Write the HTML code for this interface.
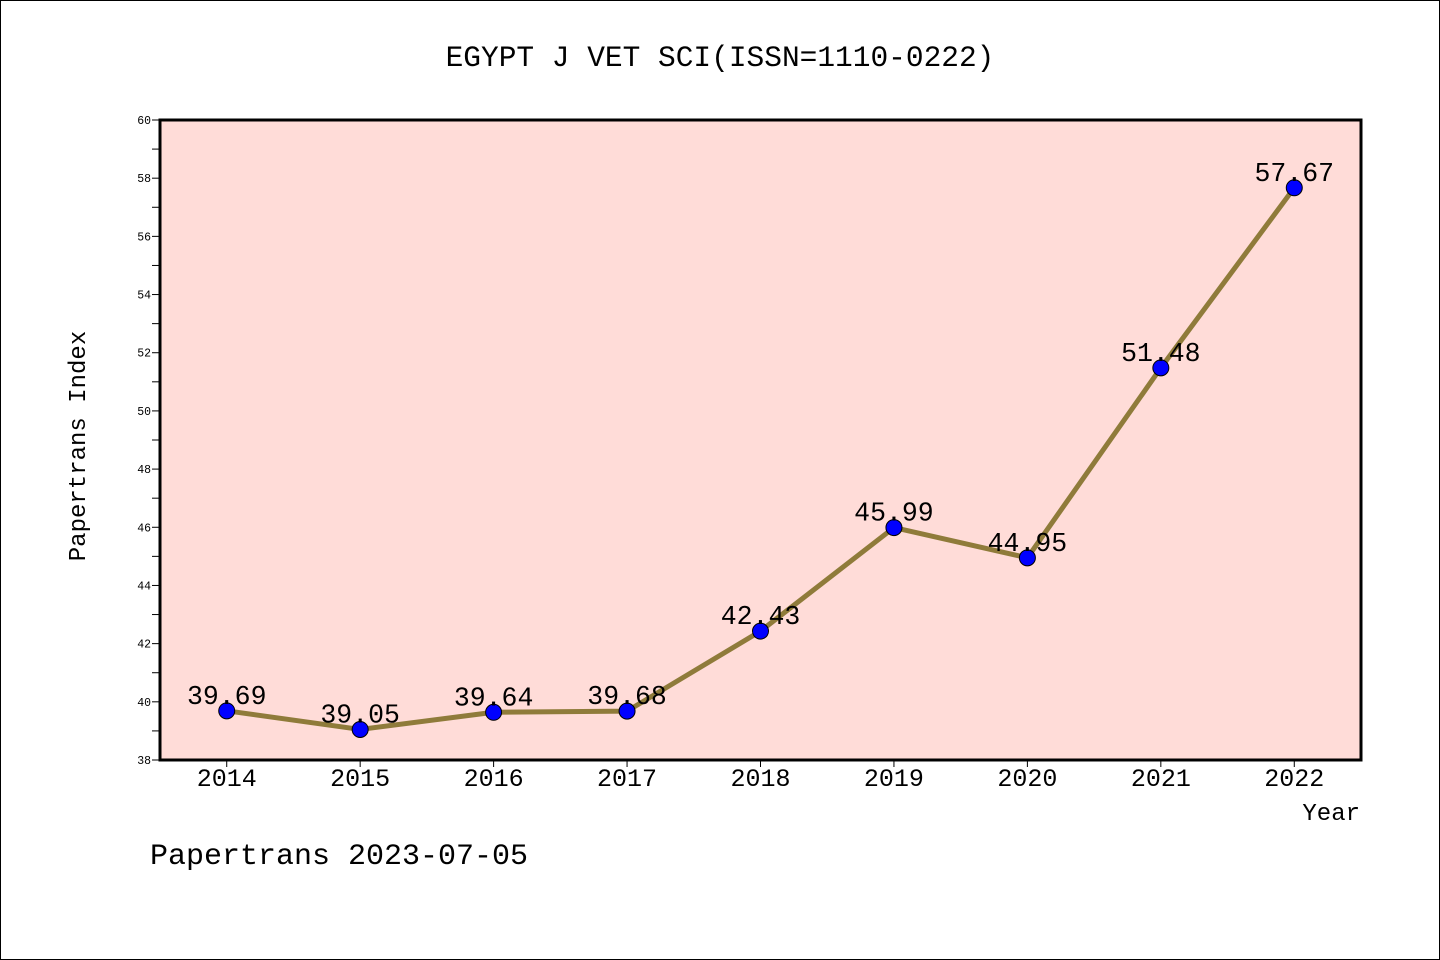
<!DOCTYPE html>
<html><head><meta charset="utf-8"><style>
html,body{margin:0;padding:0;background:#fff;}
svg{display:block;font-family:"Liberation Mono",monospace;}
</style></head><body>
<svg id="chart" width="1440" height="960" viewBox="0 0 1440 960">
<rect x="0.5" y="0.5" width="1439" height="959" fill="#fff" stroke="#000" stroke-width="1"/>
<text x="720" y="66" text-anchor="middle" font-size="29.5">EGYPT J VET SCI(ISSN=1110-0222)</text>
<rect x="160" y="120" width="1201" height="640" fill="#ffdcd8"/>
<g id="yaxis"></g>
<g id="xaxis"></g>
<g id="series"></g>
<rect x="160" y="120" width="1201" height="640" fill="none" stroke="#000" stroke-width="3"/>
<text x="0" y="0" transform="translate(85,446) rotate(-90)" text-anchor="middle" font-size="24">Papertrans Index</text>
<text x="1360" y="820" text-anchor="end" font-size="24">Year</text>
<text x="150" y="864" font-size="30">Papertrans 2023-07-05</text>
</svg>
<script>
const categories = ["2014","2015","2016","2017","2018","2019","2020","2021","2022"];
const values = [39.69,39.05,39.64,39.68,42.43,45.99,44.95,51.48,57.67];
const valueLabels = ["39.69","39.05","39.64","39.68","42.43","45.99","44.95","51.48","57.67"];
const yTicks = [38,40,42,44,46,48,50,52,54,56,58,60];
const yMinorTicks = [39,41,43,45,47,49,51,53,55,57,59];

const NS="http://www.w3.org/2000/svg";
const L=160,R=1361,T=120,B=760,YMIN=38,YMAX=60;
const y=v=>B-(v-YMIN)/(YMAX-YMIN)*(B-T);
const bw=(R-L)/categories.length;
const x=i=>L+bw*(i+0.5);
function mk(tag,attrs,parent){const e=document.createElementNS(NS,tag);for(const k in attrs)e.setAttribute(k,attrs[k]);parent.appendChild(e);return e;}
const ya=document.getElementById('yaxis'),xa=document.getElementById('xaxis'),sr=document.getElementById('series');
yTicks.forEach(t=>{
  const l=mk('line',{x1:L-8,x2:L,y1:y(t),y2:y(t),stroke:'#000','stroke-width':1},ya);
  
  
  const tx=mk('text',{x:L-9,y:y(t)+4,'text-anchor':'end','font-size':11.5},ya);
  tx.textContent=t;
  
  
});
yMinorTicks.forEach(t=>{
  const l=mk('line',{x1:L-8,x2:L,y1:y(t),y2:y(t),stroke:'#000','stroke-width':1},ya);
  
  
});
categories.forEach((c,i)=>{
  const l=mk('line',{x1:x(i),x2:x(i),y1:B,y2:B+7,stroke:'#000','stroke-width':1},xa);
  
  
  const tx=mk('text',{x:x(i),y:B+26,'text-anchor':'middle','font-size':25},xa);
  tx.textContent=c;
  
  
});
const pts=values.map((v,i)=>x(i)+','+y(v)).join(' ');
const pl=mk('polyline',{points:pts,fill:'none',stroke:'#8f7b3a','stroke-width':5,'stroke-linejoin':'round'},sr);


values.forEach((v,i)=>{
  const c=mk('circle',{cx:x(i),cy:y(v),r:8,fill:'#0000ff',stroke:'#000','stroke-width':1},sr);
  
  
  const tx=mk('text',{x:x(i),y:y(v)-7,'text-anchor':'middle','font-size':26.5},sr);
  tx.textContent=valueLabels[i];
  
  
});
</script>
</body></html>
